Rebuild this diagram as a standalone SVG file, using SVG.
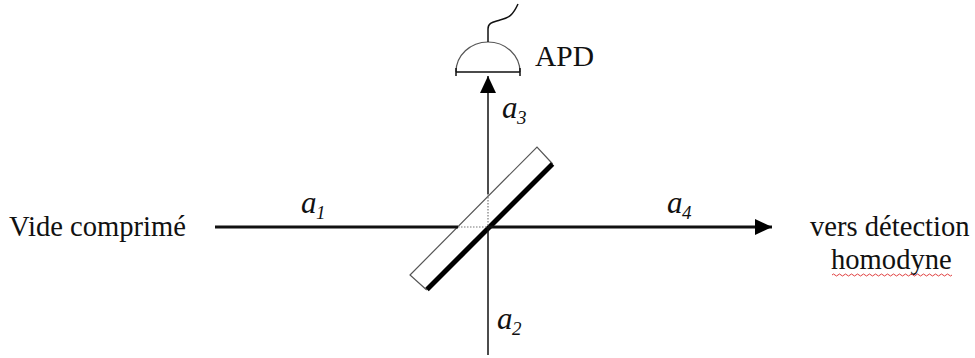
<svg xmlns="http://www.w3.org/2000/svg" width="975" height="358" viewBox="0 0 975 358">
<style>
text{font-family:"Liberation Serif","Times New Roman",serif;fill:#111;font-size:28.6px}
.i{font-style:italic;font-size:31px}
.s{font-style:italic;font-size:19px}
.l{fill:none;stroke:#111;stroke-width:1.5}
.t{fill:none;stroke:#111;stroke-width:3}
.d{fill:none;stroke:#777;stroke-width:1.2;stroke-dasharray:1.5 1.5}
.g{fill:none;stroke:#555;stroke-width:1.2}
</style>
<defs>
<marker id="arrow" markerUnits="userSpaceOnUse" markerWidth="18" markerHeight="18" refX="17" refY="9" orient="auto"><path d="M0 1L17 9L0 17Z" fill="#000"/></marker>
</defs>
<g id="beam-splitter">
<path class="g" d="M426.700 290L410 275L537 147L552.700 164"/>
<path d="M427 289.500L552.500 164" fill="none" stroke="#000" stroke-width="5"/>
<path class="d" d="M488 194V227M458 227H488"/>
</g>
<g id="connectors">
<path class="t" d="M215 227H458"/>
<path class="t" d="M488 227H772" marker-end="url(#arrow)"/>
<path class="l" d="M488 355V227"/>
<path class="l" d="M488 194V76" marker-end="url(#arrow)"/>
</g>
<g id="detector">
<path class="g" d="M456 72A32 30 0 0 1 520 72"/>
<path class="l" d="M456 72H520M456 68V76M520 68V76"/>
<path class="l" d="M488 42V29C488 22 494 22 500 20C509 18 513 15 518 4"/>
<text x="535" y="66" style="font-size:29.500px">APD</text>
</g>
<g id="label-input"><text x="9" y="236">Vide comprimé</text></g>
<g id="label-output">
<text x="810" y="236">vers détection</text>
<text x="831" y="269">homodyne</text>
<path d="M832 275q1.500 -2 3 0t3 0t3 0t3 0t3 0t3 0t3 0t3 0t3 0t3 0t3 0t3 0t3 0t3 0t3 0t3 0t3 0t3 0t3 0t3 0t3 0t3 0t3 0t3 0t3 0t3 0t3 0t3 0t3 0t3 0t3 0t3 0t3 0t3 0t3 0t3 0t3 0t3 0t3 0t3 0" fill="none" stroke="#e04040" stroke-width="1"/>
</g>
<g id="labels">
<text class="i" x="301" y="213">a</text><text class="s" x="316" y="219">1</text>
<text class="i" x="667" y="213">a</text><text class="s" x="682" y="219">4</text>
<text class="i" x="502" y="118">a</text><text class="s" x="517" y="124">3</text>
<text class="i" x="497" y="329">a</text><text class="s" x="512" y="335">2</text>
</g>
</svg>
